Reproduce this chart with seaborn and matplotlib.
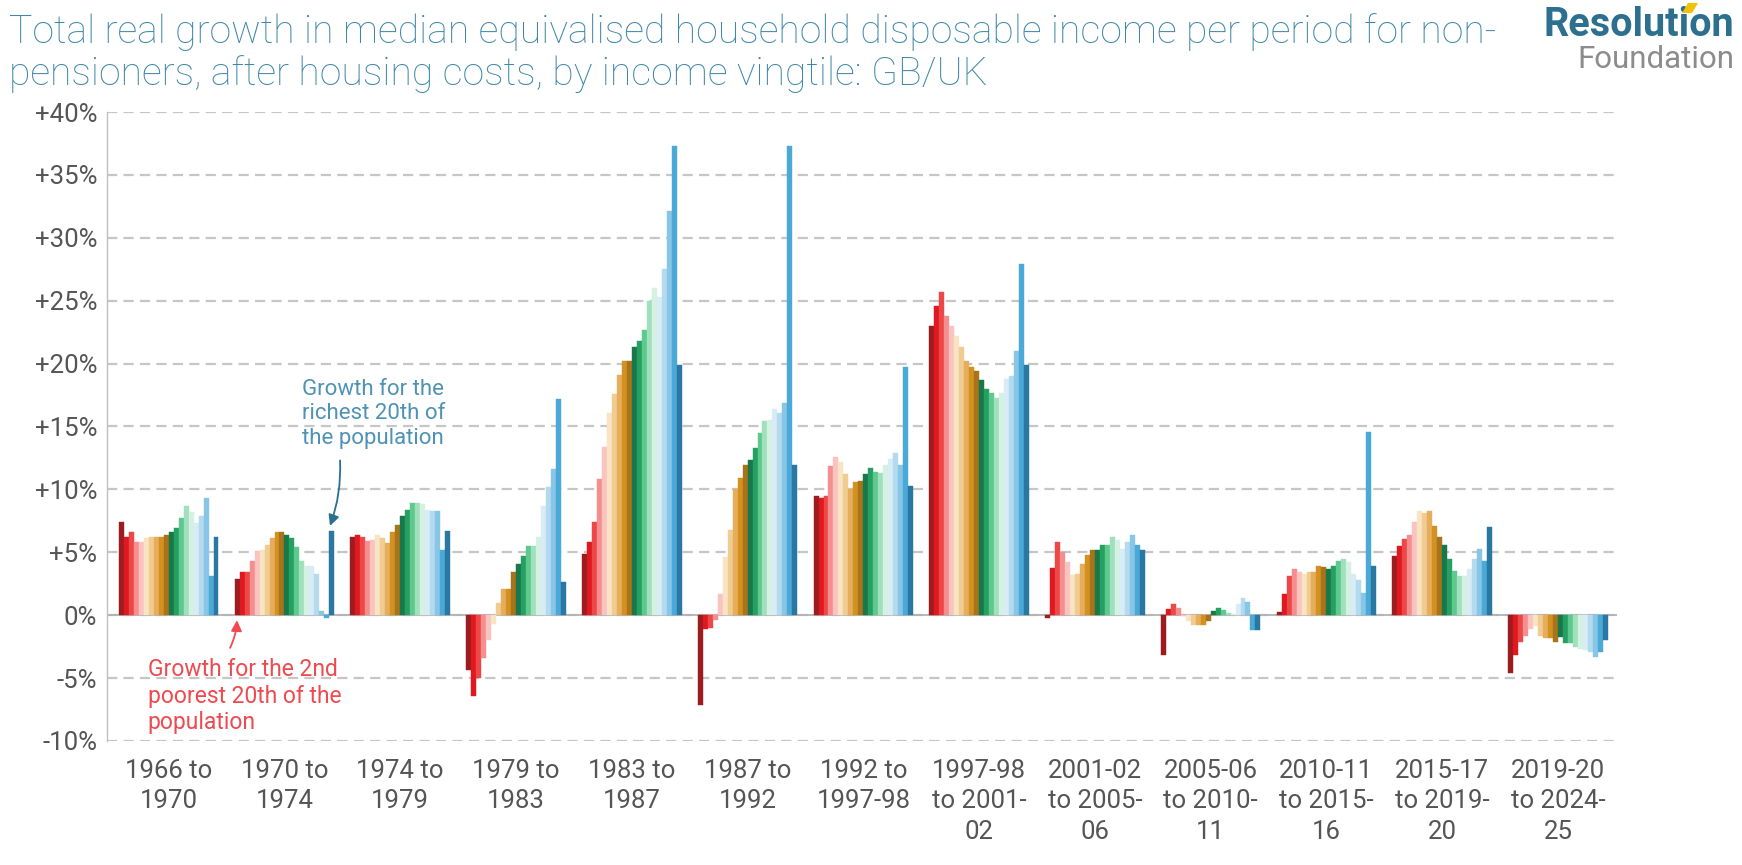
import numpy as np
import pandas as pd
import seaborn as sns
import matplotlib
matplotlib.use("Agg")
import matplotlib.pyplot as plt
from matplotlib import font_manager as fm
from matplotlib.patches import Polygon

# ---------------- data ----------------
periods = ["1966 to\n1970", "1970 to\n1974", "1974 to\n1979", "1979 to\n1983",
           "1983 to\n1987", "1987 to\n1992", "1992 to\n1997-98",
           "1997-98\nto 2001-\n02", "2001-02\nto 2005-\n06", "2005-06\nto 2010-\n11",
           "2010-11\nto 2015-\n16", "2015-17\nto 2019-\n20", "2019-20\nto 2024-\n25"]
vingtiles = [f"V{i}" for i in range(1, 21)]

g_1966_1970 = [7.4, 6.2, 6.6, 5.8, 5.8, 6.1, 6.2, 6.2, 6.25, 6.4, 6.6, 6.9, 7.7, 8.7, 8.2, 7.3, 7.9, 9.3, 3.1, 6.2]
g_1970_1974 = [2.9, 3.4, 3.4, 4.3, 5.1, 5.2, 5.6, 6.1, 6.6, 6.6, 6.4, 6.1, 5.4, 4.3, 3.9, 3.9, 3.3, 0.3, -0.2, 6.7]
g_1974_1979 = [6.2, 6.4, 6.25, 5.9, 6.0, 6.4, 6.1, 5.7, 6.6, 7.2, 7.9, 8.4, 8.9, 8.9, 8.8, 8.4, 8.3, 8.3, 5.2, 6.7]
g_1979_1983 = [-4.35, -6.4, -5.0, -3.4, -2.0, -0.7, 1.0, 2.1, 2.1, 3.45, 4.1, 4.7, 5.5, 5.5, 6.2, 8.7, 10.2, 11.6, 17.2, 2.6]
g_1983_1987 = [4.9, 5.8, 7.4, 10.8, 13.4, 16.1, 17.6, 19.1, 20.2, 20.2, 21.3, 21.8, 22.7, 25.0, 26.0, 25.3, 27.5, 32.1, 37.3, 19.9]
g_1987_1992 = [-7.1, -1.1, -1.0, -0.4, 1.7, 4.6, 6.8, 10.0, 10.9, 11.9, 12.3, 13.3, 14.5, 15.4, 15.5, 16.4, 16.1, 16.9, 37.3, 11.9]
g_1992_1998 = [9.5, 9.3, 9.45, 11.85, 12.6, 12.2, 11.2, 10.0, 10.6, 10.7, 11.2, 11.7, 11.4, 11.3, 11.9, 12.4, 12.9, 11.95, 19.7, 10.3]
g_1998_2002 = [23.0, 24.6, 25.7, 23.8, 23.0, 22.2, 21.3, 20.2, 19.7, 19.4, 18.7, 18.0, 17.7, 17.3, 17.7, 18.8, 19.0, 21.0, 27.9, 19.9]
g_2002_2006 = [-0.2, 3.75, 5.8, 5.0, 4.2, 3.2, 3.3, 4.1, 4.8, 5.2, 5.2, 5.6, 5.6, 6.2, 6.0, 5.3, 5.8, 6.35, 5.6, 5.2]
g_2006_2011 = [-3.2, 0.5, 0.9, 0.6, -0.1, -0.5, -0.8, -0.8, -0.8, -0.5, 0.3, 0.6, 0.45, 0.15, 0.1, 0.9, 1.35, 1.05, -1.2, -1.2]
g_2011_2016 = [0.25, 1.7, 3.1, 3.7, 3.45, 3.3, 3.4, 3.4, 3.9, 3.8, 3.7, 3.9, 4.3, 4.5, 4.2, 3.3, 2.8, 1.8, 14.6, 3.9]
g_2017_2020 = [4.7, 5.5, 6.05, 6.4, 7.4, 8.3, 8.1, 8.3, 7.1, 6.2, 5.6, 4.5, 3.5, 3.1, 3.1, 3.7, 4.5, 5.3, 4.3, 7.0]
g_2020_2025 = [-4.6, -3.2, -2.1, -1.65, -1.1, -0.85, -1.65, -1.85, -1.8, -2.1, -1.7, -2.2, -2.2, -2.5, -2.7, -2.75, -2.9, -3.3, -2.9, -2.0]

growth = [g_1966_1970, g_1970_1974, g_1974_1979, g_1979_1983, g_1983_1987, g_1987_1992,
          g_1992_1998, g_1998_2002, g_2002_2006, g_2006_2011, g_2011_2016, g_2017_2020, g_2020_2025]

ytick_values = [-10, -5, 0, 5, 10, 15, 20, 25, 30, 35, 40]
ytick_labels = ["-10%", "-5%", "0%", "+5%", "+10%", "+15%", "+20%", "+25%", "+30%", "+35%", "+40%"]

colours = ["#9c1c1f", "#e0181f", "#ee4747", "#f58e8e", "#fbc3bf",
           "#f8e3c3", "#f1cc90", "#e6ae5c", "#d3911f", "#a9731b",
           "#18784a", "#25a062", "#5ec98d", "#a0e0bd", "#d4f1e2",
           "#d8ecf5", "#b3daef", "#87c6e7", "#4ba9d7", "#2a78a2"]

df = pd.DataFrame([(p, v, val) for p, vals in zip(periods, growth)
                   for v, val in zip(vingtiles, vals)],
                  columns=["period", "vingtile", "growth"])

# ---------------- style ----------------
sns.set_theme(style="white")
avail = {f.name for f in fm.fontManager.ttflist}
FONT = "Roboto" if "Roboto" in avail else "DejaVu Sans"
plt.rcParams["font.family"] = [FONT, "DejaVu Sans"]

fig = plt.figure(figsize=(17.42, 8.65), dpi=100)
ax = fig.add_axes([107 / 1742, 1 - 741 / 865, (1617 - 107) / 1742, (741 - 112) / 865])

sns.barplot(data=df, x="period", y="growth", hue="vingtile", order=periods,
            hue_order=vingtiles, palette=dict(zip(vingtiles, colours)),
            width=0.86, gap=0, dodge=True, saturation=1, errorbar=None,
            legend=False, ax=ax)
for p in ax.patches:
    p.set_edgecolor(p.get_facecolor())
    p.set_linewidth(0.3)
    p.set_zorder(2)

ax.set_xlim(-0.533, 12.51)
ax.set_ylim(-10, 40)
ax.set_yticks(ytick_values)
ax.set_yticklabels(ytick_labels)
ax.yaxis.grid(True, color="#c6c6c6", lw=1.6, ls=(0, (4.6, 2.8)), zorder=0)
ax.xaxis.grid(False)
ax.set_axisbelow(True)
ax.axhline(0, color="#b3b3b3", lw=1.3, zorder=1.5)

for s in ["top", "right", "bottom"]:
    ax.spines[s].set_visible(False)
ax.spines["left"].set_color("#c0c0c0")
ax.spines["left"].set_linewidth(1.0)

ax.set_xlabel("")
ax.set_ylabel("")
ax.tick_params(axis="both", length=0, labelcolor="#555555")
ax.tick_params(axis="y", labelsize=18.5, pad=7)
ax.tick_params(axis="x", labelsize=18.5, pad=13)
for t in ax.get_xticklabels():
    t.set_linespacing(1.33)
    t.set_va("top")
    t.set_ha("center")

# ---------------- title & logo ----------------
title_col = "#3f88a8"
fig.text(9 / 1742, 1 - 43 / 865,
         "Total real growth in median equivalised household disposable income per period for non-",
         fontsize=28.2, fontweight="light", color=title_col, ha="left", va="baseline")
fig.text(9 / 1742, 1 - 85 / 865,
         "pensioners, after housing costs, by income vingtile: GB/UK",
         fontsize=28.2, fontweight="light", color=title_col, ha="left", va="baseline")

fig.text(1734 / 1742, 1 - 36 / 865, "Resolution", fontsize=28.5, weight="bold",
         color="#2c6f8e", ha="right", va="baseline")
fig.text(1734 / 1742, 1 - 68 / 865, "Foundation", fontsize=22.5,
         color="#8c8c8c", ha="right", va="baseline")
fig.patches.append(Polygon([[1682 / 1742, 1 - 13 / 865], [1688 / 1742, 1 - 3 / 865],
                            [1698 / 1742, 1 - 3 / 865], [1692 / 1742, 1 - 13 / 865]],
                           closed=True, transform=fig.transFigure,
                           facecolor="#f2c200", edgecolor="none", zorder=5))

# ---------------- annotations ----------------
ax.text(1.15, 18.8, "Growth for the\nrichest 20th of\nthe population",
        fontsize=16, color="#4e93b5", ha="left", va="top", linespacing=1.22)
ax.annotate("", xy=(1.393, 7.1), xytext=(1.48, 12.3),
            arrowprops=dict(arrowstyle="-|>", color="#2a6f8f", lw=1.3,
                            mutation_scale=16, shrinkA=0, shrinkB=0,
                            connectionstyle="arc3,rad=-0.1"))
ax.text(-0.18, -3.4, "Growth for the 2nd\npoorest 20th of the\npopulation",
        fontsize=16.5, color="#ef4a4f", ha="left", va="top", linespacing=1.2)
ax.annotate("", xy=(0.59, -0.4), xytext=(0.53, -2.6),
            arrowprops=dict(arrowstyle="-|>", color="#ef4a4f", lw=1.3,
                            mutation_scale=16, shrinkA=0, shrinkB=0,
                            connectionstyle="arc3,rad=0.1"))

fig.savefig("out.png", dpi=100, facecolor="white")
